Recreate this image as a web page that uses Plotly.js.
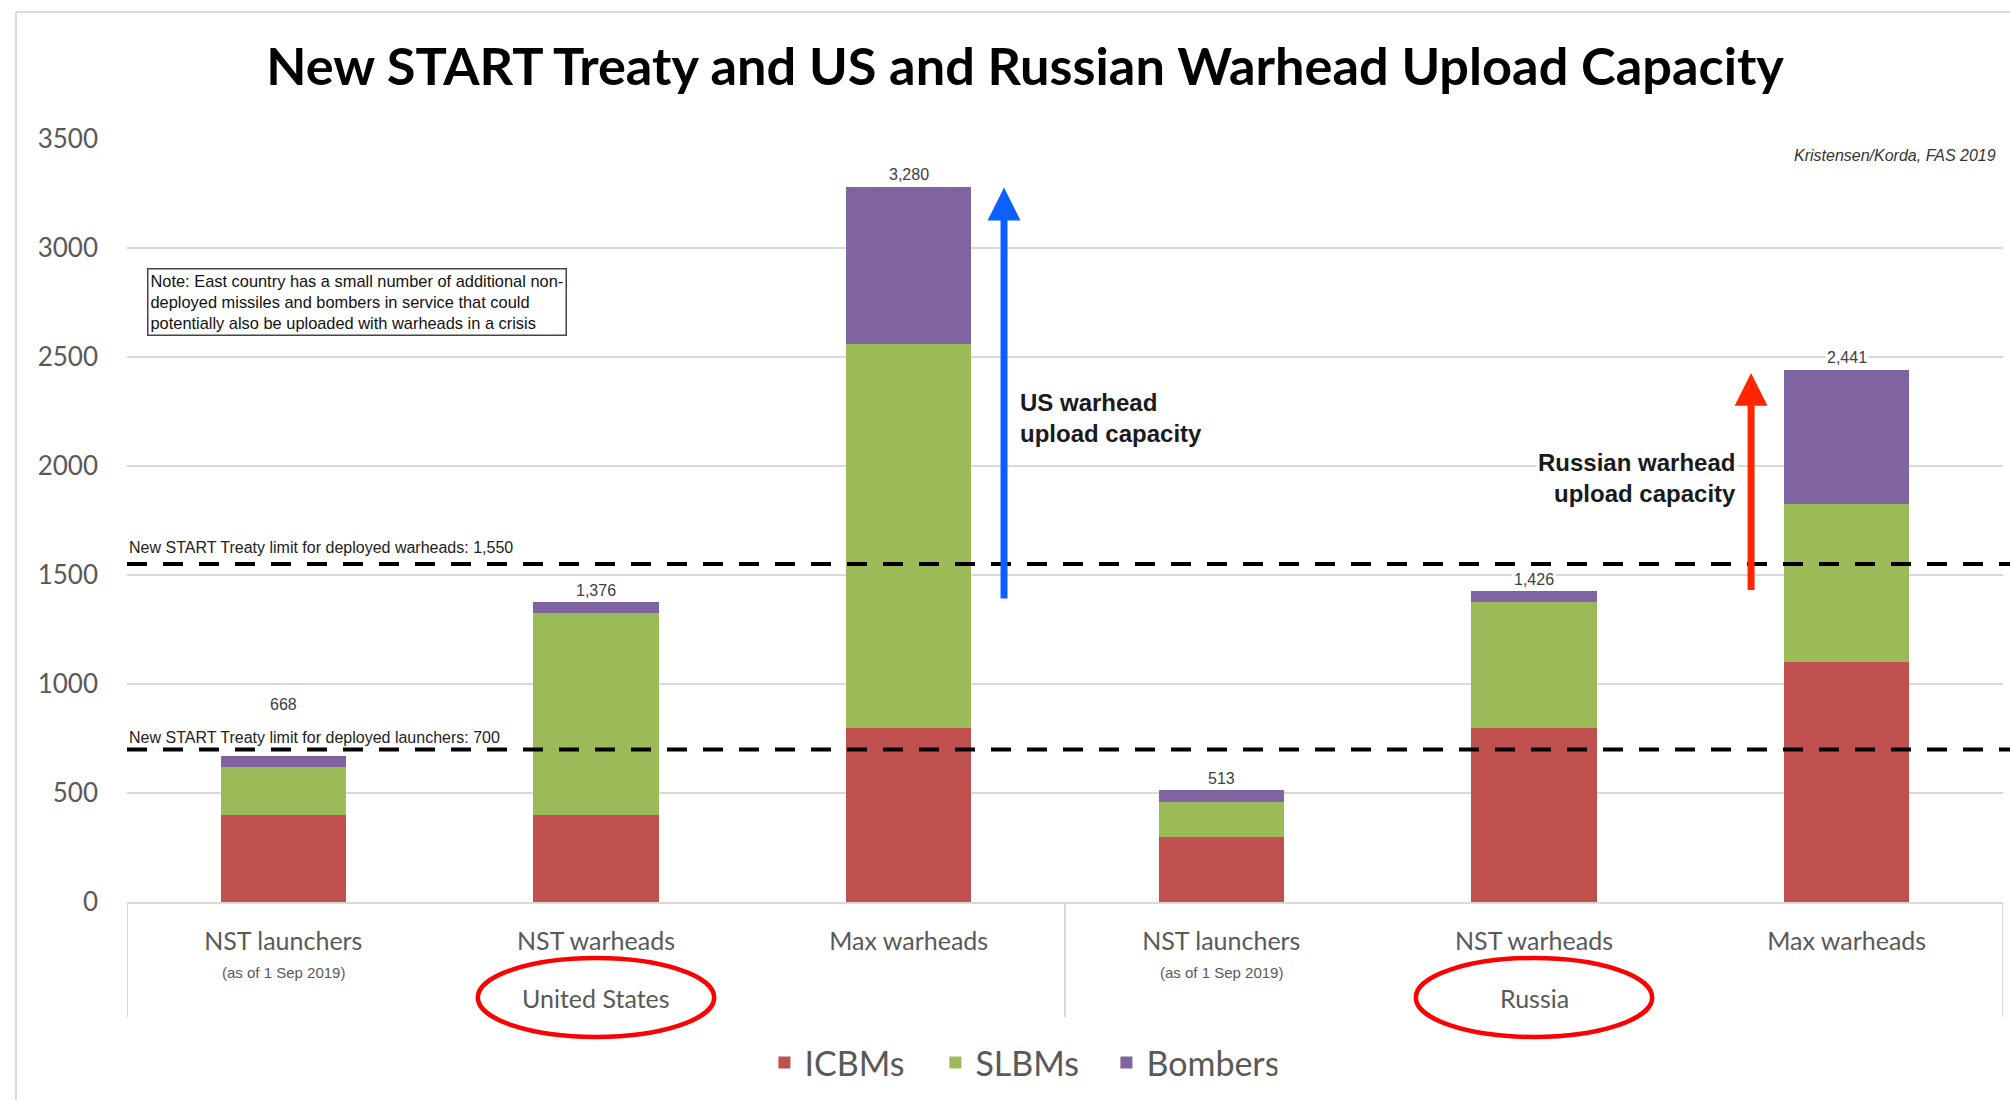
<!DOCTYPE html>
<html>
<head>
<meta charset="utf-8">
<script src="https://cdn.plot.ly/plotly-3.0.1.min.js"></script>
<style>html,body{margin:0;padding:0;background:#fff;}</style>
</head>
<body>
<div id="chart" style="width:2010px;height:1100px;"></div>
<script>
// ---- data ----
const categories = ['NST launchers', 'NST warheads', 'Max warheads', 'NST launchers', 'NST warheads', 'Max warheads'];
const categoryNotes = ['(as of 1 Sep 2019)', '', '', '(as of 1 Sep 2019)', '', ''];
const countries = ['United States', 'United States', 'United States', 'Russia', 'Russia', 'Russia'];
const icbms   = [400, 400,  800, 300, 800, 1100];
const slbms   = [220, 928, 1760, 160, 576,  726];
const bombers = [48,   48,  720,  53,  50,  615];
const totals  = [668, 1376, 3280, 513, 1426, 2441];
const limitWarheads = 1550;
const limitLaunchers = 700;
const seriesNames = ['ICBMs', 'SLBMs', 'Bombers'];
const yTicks = [0, 500, 1000, 1500, 2000, 2500, 3000, 3500];

// ---- build chart ----
const xIdx = categories.map((c, i) => i);
const colors = ['#C0504D', '#9BBB59', '#8064A2'];
const series = [icbms, slbms, bombers];

const traces = series.map((vals, k) => ({
  type: 'bar',
  name: seriesNames[k],
  x: xIdx,
  y: vals,
  width: 0.4,
  marker: {color: colors[k], line: {width: 0}},
  hoverinfo: 'skip'
}));

const annotations = [];
// value labels
totals.forEach((t, i) => {
  annotations.push({
    x: i, y: t, xref: 'x', yref: 'y',
    text: t.toLocaleString('en-US'),
    showarrow: false, yanchor: 'middle',
    yshift: i === 0 ? 52 : 12,
    bgcolor: '#ffffff', borderpad: 1,
    font: {family: 'Arial, Liberation Sans, sans-serif', size: 16, color: '#404040'}
  });
});
// category sub-notes
categoryNotes.forEach((n, i) => {
  if (!n) return;
  annotations.push({
    x: i, xref: 'x', y: -0.093, yref: 'paper', yanchor: 'middle',
    text: n, showarrow: false,
    font: {family: 'Arial, Liberation Sans, sans-serif', size: 15, color: '#595959'}
  });
});
// country (group) labels
const groupNames = [...new Set(countries)];
groupNames.forEach(g => {
  const idx = xIdx.filter(i => countries[i] === g);
  const mid = (idx[0] + idx[idx.length - 1]) / 2;
  annotations.push({
    x: mid, xref: 'x', y: -0.126, yref: 'paper', yanchor: 'middle',
    text: g, showarrow: false,
    font: {family: 'Lato, sans-serif', size: 25, color: '#595959'}
  });
});
// limit labels
annotations.push({
  x: 0, xref: 'paper', xanchor: 'left', y: limitWarheads, yref: 'y', yanchor: 'middle', yshift: 17,
  text: 'New START Treaty limit for deployed warheads: ' + limitWarheads.toLocaleString('en-US'),
  showarrow: false, font: {family: 'Arial, Liberation Sans, sans-serif', size: 16, color: '#222'}
});
annotations.push({
  x: 0, xref: 'paper', xanchor: 'left', y: limitLaunchers, yref: 'y', yanchor: 'middle', yshift: 12,
  text: 'New START Treaty limit for deployed launchers: ' + limitLaunchers,
  showarrow: false, font: {family: 'Arial, Liberation Sans, sans-serif', size: 16, color: '#222'}
});
// note box
annotations.push({
  x: 0.0107, xref: 'paper', xanchor: 'left', y: 0.831, yref: 'paper', yanchor: 'top',
  text: 'Note: East country has a small number of additional non-<br>deployed missiles and bombers in service that could<br>potentially also be uploaded with warheads in a crisis',
  align: 'left', showarrow: false, bgcolor: '#ffffff', bordercolor: '#444', borderwidth: 1.5, borderpad: 2,
  font: {family: 'Arial, Liberation Sans, sans-serif', size: 16.4, color: '#111'}
});
// source
annotations.push({
  x: 0.9973, xref: 'paper', xanchor: 'right', y: 0.979, yref: 'paper', yanchor: 'middle',
  text: '<i>Kristensen/Korda, FAS 2019</i>', showarrow: false,
  font: {family: 'Arial, Liberation Sans, sans-serif', size: 16, color: '#333'}
});
// arrows
annotations.push({
  x: 0.4675, xref: 'paper', y: 3277, yref: 'y', ax: 0, ay: 413,
  text: ' ', showarrow: true, arrowhead: 2, arrowwidth: 7, arrowsize: 0.94, arrowcolor: '#0B60FF',
  font: {size: 1}
});
annotations.push({
  x: 0.8657, xref: 'paper', y: 2427, yref: 'y', ax: 0, ay: 219,
  text: ' ', showarrow: true, arrowhead: 2, arrowwidth: 7, arrowsize: 0.94, arrowcolor: '#FF2600',
  font: {size: 1}
});
annotations.push({
  x: 0.475, xref: 'paper', xanchor: 'left', y: 2222, yref: 'y', yanchor: 'middle',
  text: '<b>US warhead<br>upload capacity</b>', align: 'left', showarrow: false,
  font: {family: 'Arial, Liberation Sans, sans-serif', size: 24, color: '#1a1a1a'}
});
annotations.push({
  x: 0.8585, xref: 'paper', xanchor: 'right', y: 1947, yref: 'y', yanchor: 'middle',
  text: '<b>Russian warhead<br>upload capacity</b>', align: 'right', showarrow: false, bgcolor: '#ffffff',
  font: {family: 'Arial, Liberation Sans, sans-serif', size: 24, color: '#1a1a1a'}
});

const shapes = [];
// frame
shapes.push({type: 'line', xref: 'paper', yref: 'paper', x0: -0.0592, x1: -0.0592, y0: 1.1665, y1: -0.3, line: {color: '#d9d9d9', width: 2}});
shapes.push({type: 'line', xref: 'paper', yref: 'paper', x0: -0.0592, x1: 1.01, y0: 1.1665, y1: 1.1665, line: {color: '#d9d9d9', width: 2}});
// group dividers
[-0.5, 2.5, 5.5].forEach(xv => shapes.push({
  type: 'line', xref: 'x', yref: 'paper', x0: xv, x1: xv, y0: 0, y1: -0.1507,
  line: {color: '#d9d9d9', width: 2}
}));
// treaty limits
[limitWarheads, limitLaunchers].forEach(v => shapes.push({
  type: 'line', xref: 'paper', yref: 'y', x0: 0, x1: 1.0037, y0: v, y1: v,
  line: {color: '#000', width: 4, dash: '20px,16px'}
}));
// red circles around country labels
groupNames.forEach(g => {
  const idx = xIdx.filter(i => countries[i] === g);
  const mid = (idx[0] + idx[idx.length - 1]) / 2;
  shapes.push({
    type: 'circle', xref: 'x', yref: 'paper', x0: mid - 0.378, x1: mid + 0.378, y0: -0.0734, y1: -0.1769,
    line: {color: '#FF0000', width: 4.5}
  });
});

const layout = {
  width: 2010, height: 1100, autosize: false,
  margin: {l: 127, r: 7, t: 139, b: 198},
  paper_bgcolor: '#ffffff', plot_bgcolor: '#ffffff',
  barmode: 'stack',
  hovermode: false,
  title: {
    text: '<b>New START Treaty and US and Russian Warhead Upload Capacity</b>',
    x: 0.51, xanchor: 'center', y: 0.939, yanchor: 'middle', xref: 'container', yref: 'container',
    font: {family: 'Lato, sans-serif', size: 52.3, color: '#000'}
  },
  xaxis: {
    range: [-0.5, 5.5], tickmode: 'array', tickvals: xIdx, ticktext: categories,
    showgrid: false, zeroline: false, showline: true, linecolor: '#d9d9d9', linewidth: 2,
    ticks: '', ticklabelstandoff: 16,
    tickfont: {family: 'Lato, sans-serif', size: 25, color: '#595959'}
  },
  yaxis: {
    range: [0, 3500], tickmode: 'array', tickvals: yTicks,
    showgrid: true, gridcolor: '#d9d9d9', gridwidth: 2, zeroline: false, showline: false,
    ticks: '', ticklabelstandoff: 28,
    tickfont: {family: 'Lato, sans-serif', size: 26, color: '#595959'}
  },
  legend: {
    orientation: 'h', x: 0.4765, xanchor: 'center', y: -0.211, yanchor: 'middle',
    entrywidth: 126,
    font: {family: 'Lato, sans-serif', size: 34, color: '#595959'},
    traceorder: 'normal', bgcolor: 'rgba(0,0,0,0)'
  },
  showlegend: true,
  annotations: annotations,
  shapes: shapes
};

Plotly.newPlot('chart', traces, layout, {displayModeBar: false, staticPlot: true});
</script>
</body>
</html>
